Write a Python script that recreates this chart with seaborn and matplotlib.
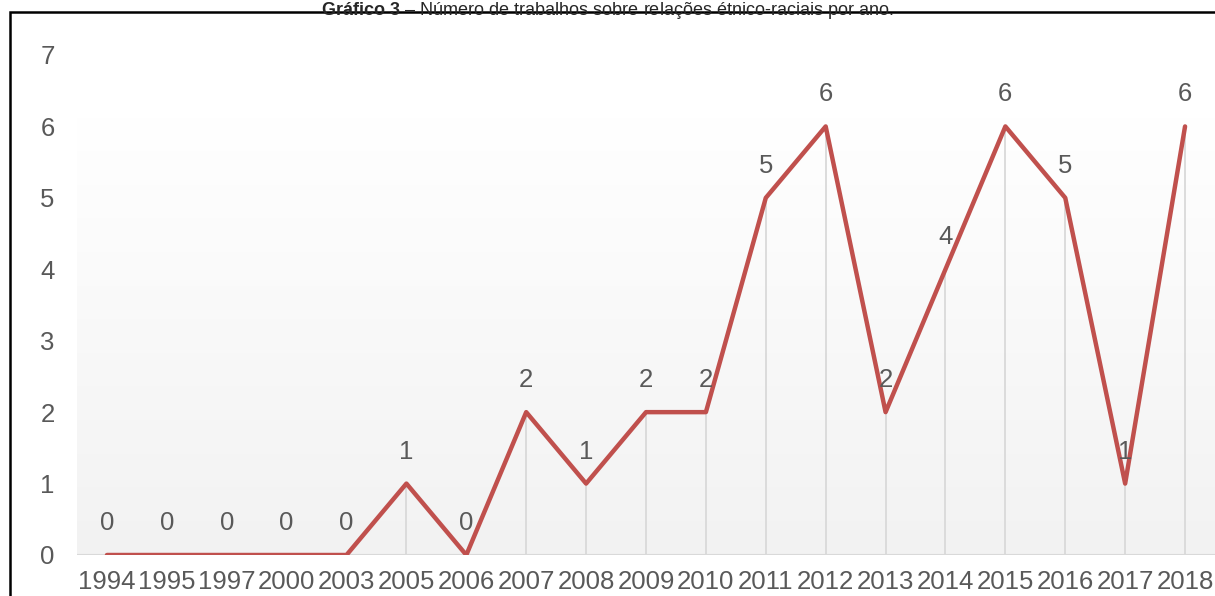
import numpy as np
import pandas as pd
import matplotlib.pyplot as plt
import seaborn as sns
from matplotlib.patches import Rectangle

# %% data
anos = ['1994', '1995', '1997', '2000', '2003', '2005', '2006', '2007', '2008', '2009',
        '2010', '2011', '2012', '2013', '2014', '2015', '2016', '2017', '2018']
trabalhos = [0, 0, 0, 0, 0, 1, 0, 2, 1, 2, 2, 5, 6, 2, 4, 6, 5, 1, 6]

df = pd.DataFrame({'ano': anos, 'n': trabalhos})
df['pos'] = np.arange(len(df))

# %% figure
sns.set_style('white')
plt.rcParams['font.family'] = ['Liberation Sans', 'DejaVu Sans']
plt.rcParams['mathtext.fontset'] = 'custom'
plt.rcParams['mathtext.bf'] = 'Liberation Sans:bold'
plt.rcParams['mathtext.rm'] = 'Liberation Sans'
cinza = '#595959'
fs = 18.5

fig = plt.figure(figsize=(12.15, 5.96), dpi=100)
ax = fig.add_axes([77 / 1215, 1 - 555 / 596, 1 - 77 / 1215, (555 - 55) / 596])

# gradient background (white -> light gray)
grad = np.linspace(0, 1, 256).reshape(-1, 1)
ax.imshow(grad, extent=(-0.5, len(df) - 0.5, 0, 6.13), aspect='auto',
          cmap=sns.blend_palette(['#f2f2f2', '#ffffff'], as_cmap=True),
          origin='lower', zorder=0)

# drop lines
ax.vlines(df['pos'], 0, df['n'], color='#d9d9d9', lw=1.3, zorder=1)
ax.axhline(0, color='#d9d9d9', lw=1.5, zorder=1)

sns.lineplot(data=df, x='pos', y='n', color='#C0504D', lw=3.2, ax=ax, zorder=3)

for p, v in zip(df['pos'], df['n']):
    ax.annotate(str(v), (p, v), xytext=(0, 23), textcoords='offset points',
                ha='center', va='center', fontsize=fs, color=cinza, zorder=4)

ax.set_xlim(-0.5, len(df) - 0.5)
ax.set_ylim(0, 7)
ax.set_xticks(df['pos'])
ax.set_xticklabels(df['ano'])
ax.set_yticks(range(0, 8))
ax.tick_params(axis='both', length=0, labelsize=fs, labelcolor=cinza)
ax.tick_params(axis='y', pad=16)
ax.tick_params(axis='x', pad=11)
ax.set_xlabel('')
ax.set_ylabel('')
sns.despine(ax=ax, left=True, bottom=True, right=True, top=True)
ax.patch.set_alpha(0)

# frame around the chart
fig.patches.append(Rectangle((10 / 1215, -0.1), 1.2, 1 - 12 / 596 + 0.1,
                             transform=fig.transFigure, fill=False,
                             edgecolor='black', lw=1.8))

# title
fig.text(0.5, 1.0, r'$\bf{Gráfico\ 3}$' + ' – Número de trabalhos sobre relações étnico-raciais por ano.',
         ha='center', va='top', fontsize=13)

fig.savefig('out.png', dpi=100)
